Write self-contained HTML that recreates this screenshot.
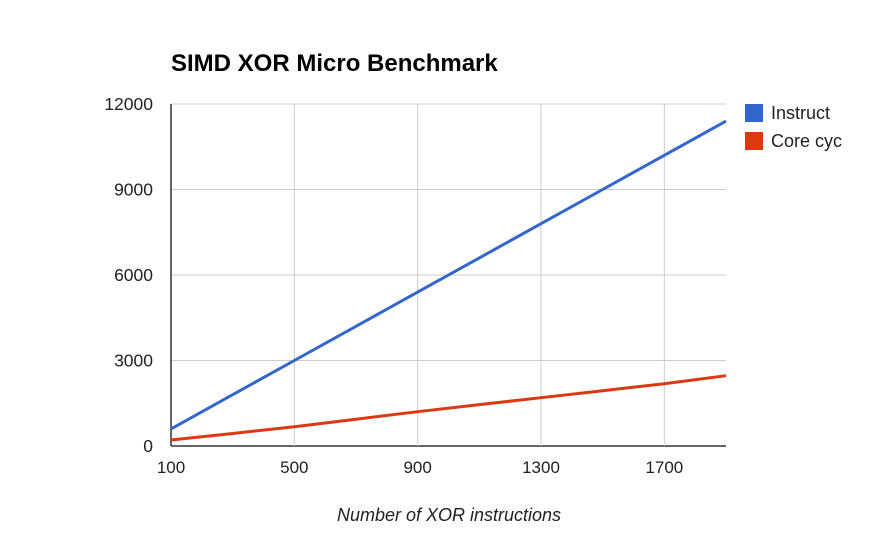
<!DOCTYPE html>
<html><head><meta charset="utf-8"><style>
body{margin:0;background:#fff;font-family:"Liberation Sans",Arial,sans-serif}
svg text{font-family:"Liberation Sans",Arial,sans-serif}
</style></head><body>
<svg id="c" width="896" height="550"></svg>
<script>
const xCats=[100,300,500,700,900,1100,1300,1500,1700,1900];
const instruct=[600,1800,3000,4200,5400,6600,7800,9000,10200,11400];
const coreCyc=[210,440,677,940,1204,1450,1695,1940,2186,2467];
const yTicks=[0,3000,6000,9000,12000];
const xTicks=[100,500,900,1300,1700];
const NS="http://www.w3.org/2000/svg";
const svg=document.getElementById('c');
const L=171,R=726,T=104,B=446;
const xs=v=>L+(v-100)/1800*(R-L);
const ys=v=>B-v/12000*(B-T);
function mk(t,a,txt){const e=document.createElementNS(NS,t);for(const k in a)e.setAttribute(k,a[k]);if(txt!==undefined)e.textContent=txt;svg.appendChild(e);return e;}
for(const v of yTicks){
 const g=mk('line',{x1:L,x2:R,y1:ys(v),y2:ys(v),stroke:v===0?'#333':'#ccc','stroke-width':v===0?1.5:1});
 
 
 const t=mk('text',{x:L-18,y:ys(v)+6,'text-anchor':'end','font-size':17.5,fill:'#222'},v);
 
 
}
for(const v of xTicks){
 if(v!==100){const g=mk('line',{x1:xs(v),x2:xs(v),y1:T,y2:B,stroke:'#ccc','stroke-width':1});
 
 }
 const t=mk('text',{x:xs(v),y:473,'text-anchor':'middle','font-size':17,fill:'#222'},v);
 
 
}
const ya=mk('line',{x1:L,x2:L,y1:T,y2:B,stroke:'#333','stroke-width':1.5});


function series(vals,col,name){
 const p=mk('polyline',{points:vals.map((v,i)=>xs(xCats[i])+','+ys(v)).join(' '),fill:'none',stroke:col,'stroke-width':3});
 
 
}
series(instruct,'#3366cc','instruct-line');
series(coreCyc,'#dc3912','core-cyc-line');
const ti=mk('text',{x:171,y:71,'font-size':24,'font-weight':'bold',fill:'#000'},'SIMD XOR Micro Benchmark');


const xt=mk('text',{x:449,y:521,'text-anchor':'middle','font-size':18,'font-style':'italic',fill:'#222'},'Number of XOR instructions');


const leg=[['Instruct','#3366cc',104],['Core cyc','#dc3912',132]];
for(const [n,c,y] of leg){
 const r=mk('rect',{x:745,y:y,width:18,height:18,fill:c});
 
 
 const t=mk('text',{x:771,y:y+15,'font-size':18,fill:'#222'},n);
 
 
}
</script>
</body></html>
